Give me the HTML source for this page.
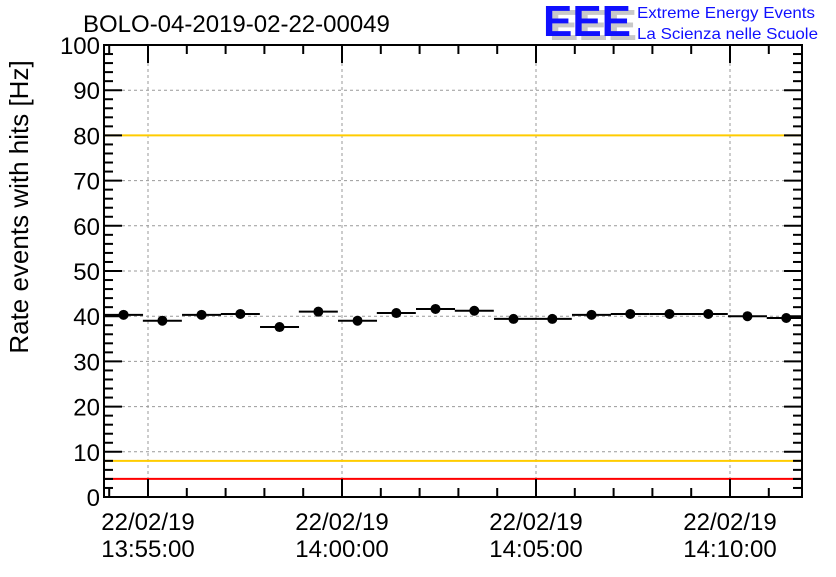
<!DOCTYPE html>
<html><head><meta charset="utf-8"><style>
body{margin:0;background:#fff;width:836px;height:572px;overflow:hidden}
svg{font-family:"Liberation Sans",sans-serif}
</style></head><body>
<svg id="c" width="836" height="572" xmlns="http://www.w3.org/2000/svg">
<rect width="836" height="572" fill="#fff"/>
<text x="83" y="32" font-size="24">BOLO-04-2019-02-22-00049</text>
<g>
<text x="549" y="40" font-size="44" font-weight="bold" fill="#c8c8c8" textLength="88" lengthAdjust="spacingAndGlyphs">EEE</text>
<text x="543" y="36" font-size="44" font-weight="bold" fill="#1010ff" textLength="88" lengthAdjust="spacingAndGlyphs">EEE</text>
<text x="637" y="18" font-size="16" fill="#1010ff" textLength="178" lengthAdjust="spacingAndGlyphs">Extreme Energy Events</text>
<text x="637" y="39" font-size="16" fill="#1010ff" textLength="181" lengthAdjust="spacingAndGlyphs">La Scienza nelle Scuole</text>
</g>
<text transform="translate(28,207) rotate(-90)" text-anchor="middle" font-size="26">Rate events with hits [Hz]</text>
<g id="grid"></g><g id="axes"></g><g id="marks"></g>
</svg>
<script>
const binOffsetsMin=[-0.63,0.37,1.38,2.38,3.39,4.39,5.4,6.4,7.41,8.41,9.42,10.42,11.43,12.43,13.44,14.44,15.45,16.45];
const rates=[40.3,39.0,40.3,40.5,37.6,41.0,39.0,40.7,41.6,41.2,39.4,39.4,40.3,40.5,40.5,40.5,40.0,39.6];
const yTicks=[0,10,20,30,40,50,60,70,80,90,100];
const xTickMin=[0,5,10,15];
const xTickLabels=[["22/02/19","13:55:00"],["22/02/19","14:00:00"],["22/02/19","14:05:00"],["22/02/19","14:10:00"]];
const refLines=[{v:80,c:"#ffcc00"},{v:8,c:"#ffcc00"},{v:4,c:"#ff0000"},{v:100,c:"#ff0000"}];
const L=104,R=802,T=45,B=497;
const xs=m=>148+m*38.8, ys=v=>B-(v/100)*(B-T);
const NS="http://www.w3.org/2000/svg";
function mk(p,t,a){const e=document.createElementNS(NS,t);for(const k in a)e.setAttribute(k,a[k]);p.appendChild(e);return e;}
const g=document.getElementById('grid'),ax=document.getElementById('axes'),mg=document.getElementById('marks');
yTicks.forEach(v=>{
 if(v>0&&v<100){const l=mk(g,'line',{x1:L,x2:R,y1:ys(v),y2:ys(v),stroke:'#999','stroke-dasharray':'3,3'});
 
 }
 const t=mk(ax,'text',{x:L-4,y:ys(v)+9,'text-anchor':'end','font-size':24});t.textContent=v;
 
 
});
xTickMin.forEach((m,i)=>{
 const l=mk(g,'line',{x1:xs(m),x2:xs(m),y1:T,y2:B,stroke:'#999','stroke-dasharray':'3,3'});
 
 
 xTickLabels[i].forEach((s,j)=>{const t=mk(ax,'text',{x:xs(m),y:530+j*27,'text-anchor':'middle','font-size':24});t.textContent=s;
 
 });
});
refLines.forEach(r=>{const l=mk(g,'line',{x1:L,x2:R+1,y1:ys(r.v),y2:ys(r.v),stroke:r.c,'stroke-width':2});
 
 });
for(let v=0;v<=100;v+=2){const len=v%10?9:18;
 mk(ax,'line',{x1:L,x2:L+len,y1:ys(v),y2:ys(v),stroke:'#000','stroke-width':2});
 mk(ax,'line',{x1:R-len,x2:R,y1:ys(v),y2:ys(v),stroke:'#000','stroke-width':2});}
for(let m=-1;m<=17;m++){const x=xs(m);if(x<L||x>R)continue;const len=m%5?9:18;
 mk(ax,'line',{x1:x,x2:x,y1:B,y2:B-len,stroke:'#000','stroke-width':2});
 mk(ax,'line',{x1:x,x2:x,y1:T,y2:T+len,stroke:'#000','stroke-width':2});}
const fr=mk(ax,'rect',{x:L,y:T,width:R-L,height:B-T,fill:'none',stroke:'#000','stroke-width':2});


rates.forEach((v,i)=>{const cx=xs(binOffsetsMin[i]),cy=ys(v);
 const l=mk(mg,'line',{x1:Math.max(L,cx-19.5),x2:Math.min(R,cx+19.5),y1:cy,y2:cy,stroke:'#000','stroke-width':2});
 
 
 const c=mk(mg,'circle',{cx:cx,cy:cy,r:5,fill:'#000'});
 
 
});
</script>
</body></html>
